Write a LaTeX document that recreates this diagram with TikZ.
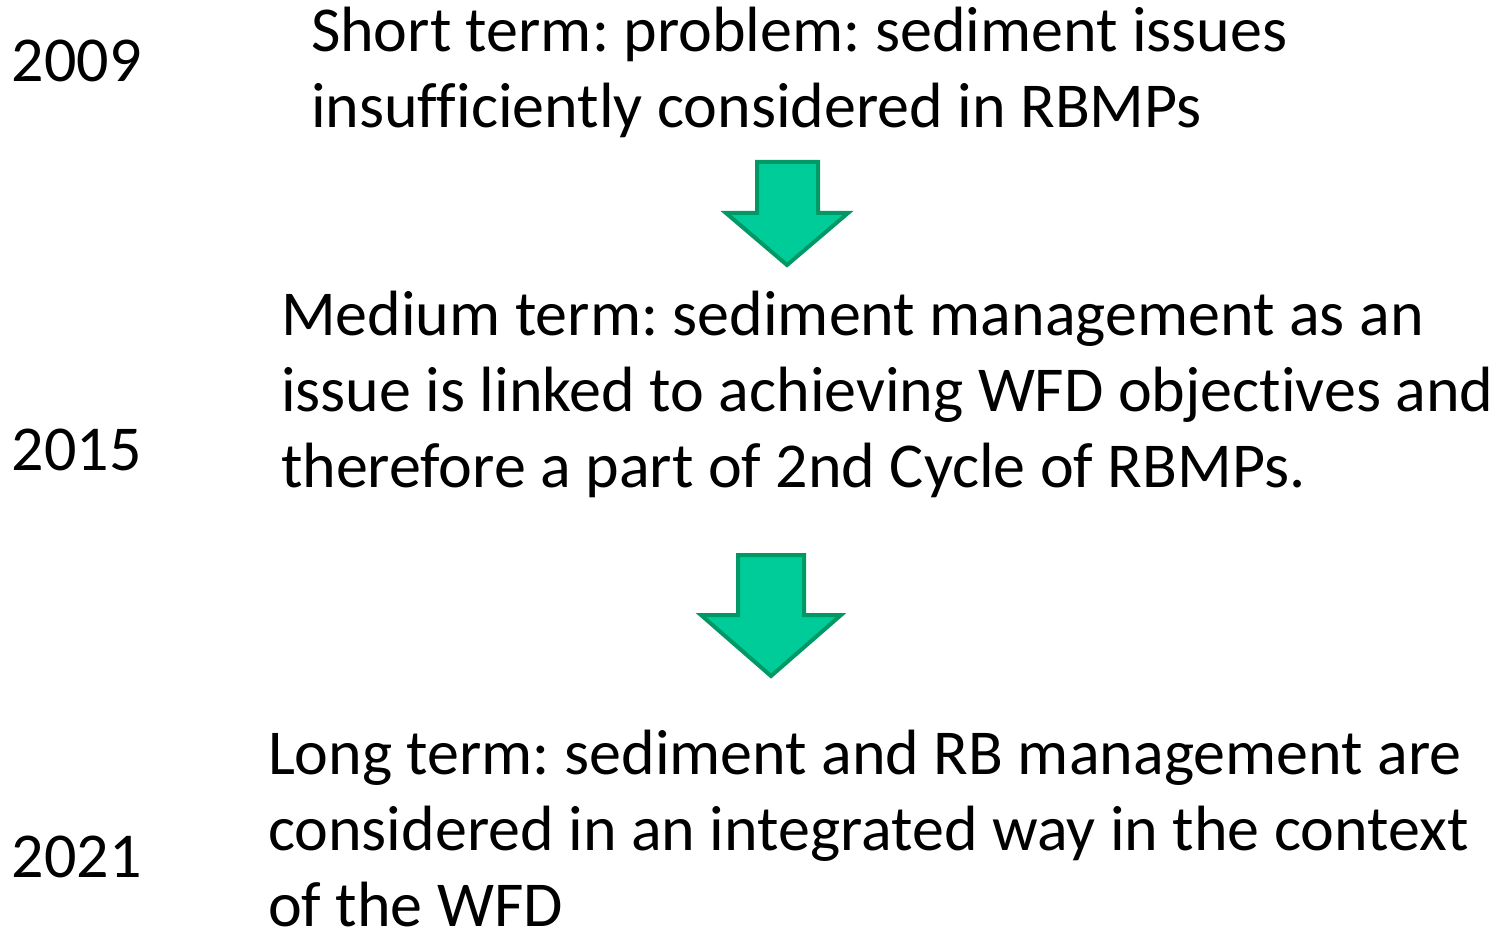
\documentclass[tikz,border=0pt]{standalone}
\usepackage{fontspec}
\setmainfont[Ligatures=CommonOff]{Carlito}
\usetikzlibrary{positioning}
\definecolor{arrowfill}{HTML}{00CC99}
\definecolor{arrowline}{HTML}{009966}
\tikzset{
  every node/.style={inner sep=0pt,outer sep=0pt},
  year/.style={anchor=base west,font=\fontsize{48}{57}\selectfont},
  phase/.style={anchor=base west,align=left,font=\fontsize{48}{57}\selectfont\frenchspacing},
  greenarrow/.style={fill=arrowfill,draw=arrowline,line width=3pt,line join=miter}
}
\begin{document}
\begin{tikzpicture}[x=0.75pt,y=-0.75pt]
  \useasboundingbox (0,0) rectangle (1507,930);
  % years
  \node[year] (y1) at (12,82)  {2009};
  \node[year] (y2) at (12,471) {2015};
  \node[year] (y3) at (12,877) {2021};
  % phases (base = last line)
  \node[phase] (short)  at (311,128) {Short term: problem: sediment issues\\insufficiently considered in RBMPs};
  \node[phase] (medium) at (281,488) {Medium term: sediment management as an\\issue is linked to achieving WFD objectives and\\therefore a part of 2nd Cycle of RBMPs.};
  \node[phase] (long)   at (268,926) {Long term: sediment and RB management are\\considered in an integrated way in the context\\of the WFD};
  % arrows
  \draw[greenarrow] (757,162) -- (818,162) -- (818,213) -- (848,213)
    -- (787,265) -- (726,213) -- (757,213) -- cycle;
  \draw[greenarrow] (738,555) -- (804,555) -- (804,615) -- (841,615)
    -- (771,676) -- (701,615) -- (738,615) -- cycle;
\end{tikzpicture}
\end{document}
